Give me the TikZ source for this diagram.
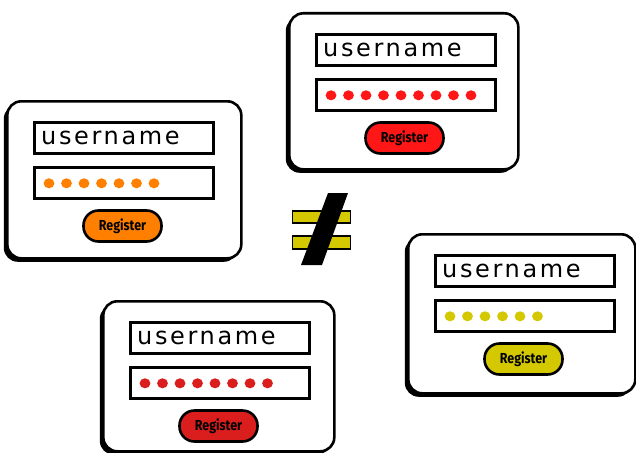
\documentclass[tikz,border=0pt]{standalone}
\usepackage{fontspec}
\usepackage{graphicx}
\usetikzlibrary{shadows,calc}
\newfontfamily\userfont[LetterSpace=11]{DejaVu Sans}
\newfontfamily\btnfont{Fira Sans}
\definecolor{cOrange}{RGB}{255,128,0}
\definecolor{cRedA}{RGB}{255,22,22}
\definecolor{cRedB}{RGB}{218,30,30}
\definecolor{cYellow}{RGB}{212,200,0}
\tikzset{
  cardbox/.style={draw=black, line width=2.6pt, fill=white, rounded corners=14pt,
    general shadow={fill=black, shadow xshift=-3.5pt, shadow yshift=-3.5pt}, inner sep=0pt},
  field/.style={draw=black, line width=2.6pt, fill=white, inner sep=0pt,
    minimum width=179pt, minimum height=31pt, anchor=north west},
  utext/.style={font=\userfont\fontsize{24}{26}\selectfont, anchor=west, inner sep=0pt},
  btn/.style={draw=black, line width=2.6pt, rounded corners=15pt, minimum width=78pt,
    minimum height=31pt, inner sep=0pt, font=\btnfont\bfseries\fontsize{14.5}{16}\selectfont},
  eqbar/.style={draw=black, line width=1.8pt, fill=cYellow, minimum width=58pt,
    minimum height=12.5pt, inner sep=0pt},
}
\newcommand\btnlabel{\scalebox{0.86}[1]{Register}}
\newcommand\logincard[7]{%
  \node[cardbox, minimum width=#4pt, minimum height=#5pt, anchor=north west] (card#1) at (#2,#3) {};
  \node[field] (user#1) at (#2+27,#3+21) {};
  \node[utext] (ut#1) at ($(user#1.west)+(8,0.5)$) {username};
  \node[field] (pass#1) at (#2+27,#3+66) {};
  \foreach \i in {1,...,#7} \fill[#6] ($(pass#1.west)+(16+17.5*\i-17.5,0.5)$) ellipse [x radius=5.4pt, y radius=5pt];
  \node[btn, fill=#6] (btn#1) at (#2+116.5,#3+126) {\btnlabel};
}
\begin{document}
\begin{tikzpicture}[x=1pt,y=-1pt]
\useasboundingbox (0,0) rectangle (636,452);
\fill[white] (0,0) rectangle (636,452);
\logincard{A}{6}{100}{234}{157}{cOrange}{7}
\logincard{B}{288}{12}{229}{156}{cRedA}{9}
\logincard{C}{407}{233}{227}{159}{cYellow}{6}
\logincard{D}{102}{300}{231}{150}{cRedB}{8}
% not-equal sign
\node[eqbar] (barU) at (321.5,217) {};
\node[eqbar] (barL) at (321.5,242.5) {};
\fill[black] (328,193) -- (348,193) -- (322,265) -- (301,265) -- cycle;
\end{tikzpicture}
\end{document}
